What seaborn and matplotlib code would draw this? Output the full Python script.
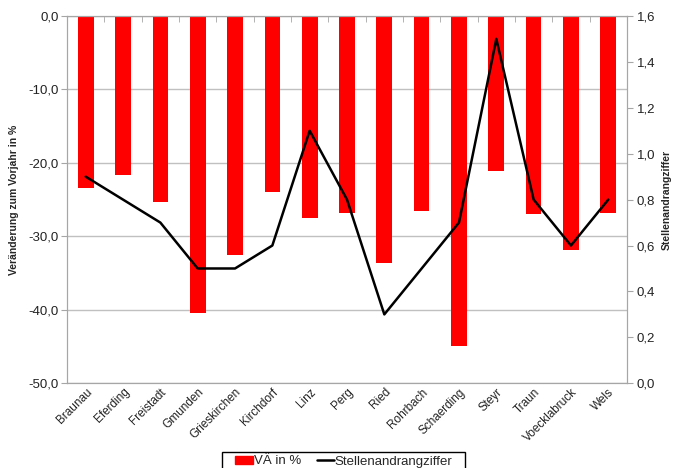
import matplotlib
matplotlib.use("Agg")
import matplotlib.pyplot as plt
import seaborn as sns
import numpy as np
from matplotlib.ticker import FixedLocator, FuncFormatter
from matplotlib.patches import Patch, Rectangle
from matplotlib.lines import Line2D

# data
bezirke = ["Braunau", "Eferding", "Freistadt", "Gmunden", "Grieskirchen",
           "Kirchdorf", "Linz", "Perg", "Ried", "Rohrbach", "Schaerding",
           "Steyr", "Traun", "Voecklabruck", "Wels"]
va_prozent = [-23.4, -21.7, -25.3, -40.4, -32.6, -23.9, -27.5, -26.8,
              -33.6, -26.6, -44.9, -21.1, -27.0, -31.9, -26.8]
andrang = [0.9, 0.8, 0.7, 0.5, 0.5, 0.6, 1.1, 0.8, 0.3, 0.5, 0.7, 1.5,
           0.8, 0.6, 0.8]

sns.set_style("white")
plt.rcParams["font.family"] = ["Liberation Sans", "DejaVu Sans"]

grey = "#a6a6a6"
komma = FuncFormatter(lambda v, p: f"{v:.1f}".replace(".", ","))

fig = plt.figure(figsize=(6.73, 4.68), dpi=100)
ax = fig.add_axes([0.0996, 0.181, 0.832, 0.785])

sns.barplot(x=bezirke, y=va_prozent, color="#ff0000", width=0.42,
            saturation=1, edgecolor="none", ax=ax)
ax.set_xlim(-0.5, len(bezirke) - 0.5)
ax.set_ylim(-50, 0)
ax.set_yticks(np.arange(-50, 1, 10))
ax.yaxis.set_major_formatter(komma)
ax.grid(axis="y", color="#c0c0c0", linewidth=1)
ax.set_axisbelow(True)
for s in ax.spines.values():
    s.set_color(grey)
ax.tick_params(axis="y", which="major", length=4, color=grey, labelsize=9.5,
               labelcolor="#222222", pad=2)
ax.tick_params(axis="x", which="major", length=0, labelsize=8.5,
               labelcolor="#222222", pad=2)
plt.setp(ax.get_xticklabels(), rotation=45, ha="right", rotation_mode="anchor")
ax.xaxis.set_minor_locator(FixedLocator(np.arange(-0.5, len(bezirke), 1)))
ax.tick_params(axis="x", which="minor", top=True, bottom=False,
               direction="in", length=4, color=grey)
ax.set_xlabel("")
ax.set_ylabel("Veränderung zum Vorjahr in %", fontsize=7.5, fontweight="bold",
              labelpad=7)

ax2 = ax.twinx()
sns.lineplot(x=np.arange(len(bezirke)), y=andrang, color="black",
             linewidth=1.8, ax=ax2)
ax2.set_ylim(0, 1.6)
ax2.set_yticks(np.arange(0, 1.61, 0.2))
ax2.yaxis.set_major_formatter(komma)
for s in ax2.spines.values():
    s.set_color(grey)
ax2.tick_params(axis="y", length=4, color=grey, labelsize=9.5,
                labelcolor="#222222", pad=3)
ax2.set_ylabel("Stellenandrangziffer", fontsize=7.5, fontweight="bold",
               labelpad=5)

# legend with a wide, square frame cut off at the bottom like the original
handles = [Patch(color="#ff0000"), Line2D([], [], color="black", linewidth=1.8)]
fig.legend(handles, ["VÄ in %", "Stellenandrangziffer"],
           loc="center", bbox_to_anchor=(344 / 673, 1 - 461.5 / 468), ncol=2,
           frameon=False, fontsize=9.5, handlelength=1.3,
           handleheight=0.5, columnspacing=1.2, borderpad=0,
           handletextpad=0.08)
fig.add_artist(Rectangle((222 / 673, -0.02), 243 / 673, 0.02 + 16 / 468,
                         transform=fig.transFigure, fill=False,
                         edgecolor="black", linewidth=1))

fig.savefig("out.png", dpi=100)
